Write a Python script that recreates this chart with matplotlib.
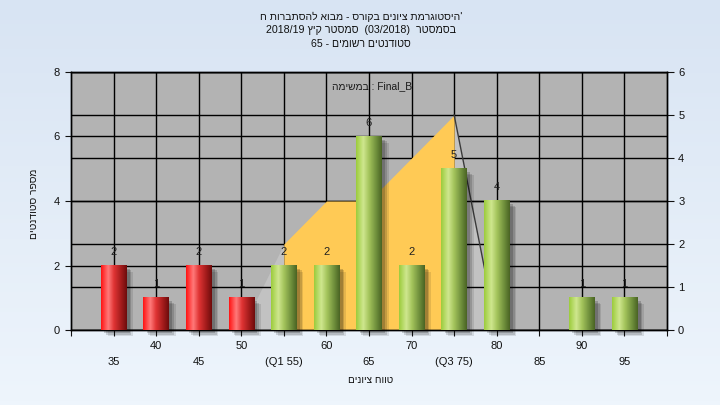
import matplotlib
matplotlib.use("Agg")
import matplotlib.pyplot as plt
import matplotlib.transforms as mtransforms
from matplotlib.colors import to_rgb
import numpy as np

plt.rcParams["font.family"] = ["Liberation Sans", "DejaVu Sans"]


def heb(s):
    # matplotlib lays glyphs out left to right, so Hebrew runs are reversed
    return s[::-1]


GRADES = [35, 40, 45, 50, 55, 60, 65, 70, 75, 80, 85, 90, 95]
TICK_LABELS = ["35", "40", "45", "50", "(Q1 55)", "60", "65", "70",
               "(Q3 75)", "80", "85", "90", "95"]
COUNTS = [2, 1, 2, 1, 2, 2, 6, 2, 5, 4, 0, 1, 1]
FAILED = [True, True, True, True, False, False, False, False,
          False, False, False, False, False]

# quartile band (right axis)
BAND_GRADES = [50, 55, 60, 65, 70, 75, 80]
BAND_VALUES = [0, 2, 3, 3, 4, 5, 0]
Q1, Q3 = 55, 75

TITLE = [
    heb("היסטוגרמת ציונים בקורס - מבוא להסתברות ח") + "'",
    "2018/19 " + heb("סמסטר קיץ") + "  (03/2018)  " + heb("בסמסטר"),
    "65 - " + heb("סטודנטים רשומים"),
]
TASK_LABEL = heb("במשימה") + " : Final_B"
XLABEL = heb("טווח ציונים")
YLABEL = heb("מספר סטודנטים")

LEFT_MAX, RIGHT_MAX = 8, 6

RED_STOPS = [(0.0, "#ff1414"), (0.28, "#ff7a7a"), (0.5, "#e03434"),
             (0.8, "#9e1a1a"), (1.0, "#6e0c0c")]
GREEN_STOPS = [(0.0, "#9ccc3c"), (0.28, "#cfe78f"), (0.5, "#a4c45c"),
               (0.8, "#6c8c3a"), (1.0, "#4a6424")]
INK = "#111111"


def gradient(stops, n=64):
    pos = np.array([p for p, _ in stops])
    cols = np.array([to_rgb(c) for _, c in stops])
    t = np.linspace(0, 1, n)
    rgb = np.stack([np.interp(t, pos, cols[:, k]) for k in range(3)], axis=-1)
    return rgb[np.newaxis, :, :]


fig = plt.figure(figsize=(7.2, 4.05), dpi=100)

bg = fig.add_axes([0, 0, 1, 1], zorder=-10)
bg_grad = np.linspace(0, 1, 100)[:, None]
bg_top, bg_bot = np.array(to_rgb("#d8e4f3")), np.array(to_rgb("#eef5fc"))
bg.imshow(bg_top + (bg_bot - bg_top) * bg_grad[:, :, None] * np.ones((1, 2, 1)),
          aspect="auto", extent=[0, 1, 0, 1])
bg.axis("off")

rect = [71 / 720, 1 - 330 / 405, 596 / 720, 258 / 405]
ax = fig.add_axes(rect)
ax2 = ax.twinx()
ax.set_zorder(2)
ax2.set_zorder(1)
ax.patch.set_visible(False)
ax2.patch.set_visible(True)
ax2.patch.set_facecolor("#b3b3b3")

x = np.arange(len(GRADES))
ax.set_xlim(-1, len(GRADES))
ax.set_ylim(0, LEFT_MAX)
ax2.set_ylim(0, RIGHT_MAX)

# grid on the lower axes so the band covers it
ax2.set_yticks(range(RIGHT_MAX + 1))
ax2.grid(axis="y", color="black", lw=1)
for v in range(0, LEFT_MAX + 1, 2):
    ax2.axhline(v * RIGHT_MAX / LEFT_MAX, color="black", lw=1, zorder=0.5)
for xi in x:
    ax2.axvline(xi, color="black", lw=1, zorder=0.5)

# quartile band
bx = np.array([GRADES.index(g) for g in BAND_GRADES], dtype=float)
bv = np.array(BAND_VALUES, dtype=float)
i1, i3 = BAND_GRADES.index(Q1), BAND_GRADES.index(Q3)
ax2.fill_between(bx[:i1 + 1], 0, bv[:i1 + 1], color="#c2c2c2", lw=0, zorder=1)
ax2.fill_between(bx[i3:], 0, bv[i3:], color="#c2c2c2", lw=0, zorder=1)
ax2.fill_between(bx[i1:i3 + 1], 0, bv[i1:i3 + 1], color="#ffca55", lw=0, zorder=2)
ax2.plot(bx[i3:], bv[i3:], color="#3a3a3a", lw=1, zorder=3)

# bars with shadow and cylinder shading
width = 0.6
for dx, dy, a in [(0.16, 0.2, 0.10), (0.12, 0.15, 0.14), (0.08, 0.1, 0.18)]:
    ax.bar(x + dx, COUNTS, width=width, bottom=-dy, color="black", alpha=a,
           lw=0, clip_on=False, zorder=2)
for xi, c, failed in zip(x, COUNTS, FAILED):
    if c == 0:
        continue
    img = gradient(RED_STOPS if failed else GREEN_STOPS)
    ax.imshow(img, extent=[xi - width / 2, xi + width / 2, 0, c],
              aspect="auto", zorder=3, interpolation="bilinear")
    ax.text(xi, c + 0.43, str(c), ha="center", va="center", fontsize=8,
            color="#202020", zorder=4)
ax.set_xlim(-1, len(GRADES))
ax.set_ylim(0, LEFT_MAX)

# axes, ticks
ax.set_yticks(range(0, LEFT_MAX + 1, 2))
ax.tick_params(axis="y", length=4, pad=4, labelsize=8, colors=INK)
ax2.tick_params(axis="y", length=5, pad=3, labelsize=8, colors=INK)
ax.set_xticks(np.arange(-1, len(GRADES) + 1))
ax.set_xticklabels([""] + [t if i % 2 == 1 else "" for i, t in enumerate(TICK_LABELS)] + [""])
ax.tick_params(axis="x", length=4, pad=4, labelsize=8, colors=INK)
trans = mtransforms.blended_transform_factory(ax.transData, ax.transAxes)
for i, t in enumerate(TICK_LABELS):
    if i % 2 == 0:
        ax.text(i, -(362 - 330) / 258, t, transform=trans, ha="center",
                va="center", fontsize=8, color=INK)
for sp in list(ax.spines.values()) + list(ax2.spines.values()):
    sp.set_color("black")
    sp.set_linewidth(1)

ax.text(0.505, 0.946, TASK_LABEL, transform=ax.transAxes, ha="center",
        va="center", fontsize=7.4, color="#1a1a1a", zorder=5)

for line, yy, fs in zip(TITLE, [17, 30, 44], [7.5, 7.7, 7.6]):
    fig.text(361 / 720, 1 - yy / 405, line, ha="center", va="center",
             fontsize=fs, color=INK)
fig.text(371 / 720, 1 - 380 / 405, XLABEL, ha="center", va="center",
         fontsize=7.2, color=INK)
fig.text(34 / 720, 1 - 204 / 405, YLABEL, ha="center", va="center",
         rotation=90, fontsize=7.4, color=INK)

fig.savefig("out.png", dpi=100)
